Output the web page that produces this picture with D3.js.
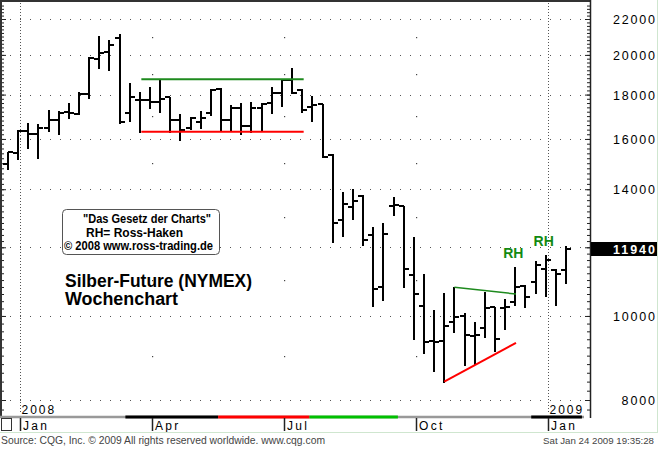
<!DOCTYPE html>
<html>
<head>
<meta charset="utf-8">
<script src="https://cdn.jsdelivr.net/npm/d3@7"></script>
<style>
  body { margin: 0; background: #fff; }
  svg { display: block; font-family: Arial, "Liberation Sans", sans-serif; }
</style>
</head>
<body>
<svg id="chart" width="660" height="449"></svg>
<script>
// weekly bars, one per Monday
const firstWeek = new Date(2007, 11, 31);
const lastWeek = new Date(2009, 0, 19);

const opens = [14960, 15400, 16340, 16200, 16490, 16830, 17170, 17100, 18020, 19770,
  20140, 20900, 17130, 17740, 17740, 17660, 17900, 16830, 16460, 16750,
  17130, 18280, 16830, 17360, 16560, 17360, 17590, 18090, 18720, 18220,
  17400, 17540, 15330, 12900, 13370, 13750, 12400, 10790, 13400, 13390,
  11150, 10270, 9360, 9360, 9850, 10000, 9480, 9680, 10240, 10210,
  10390, 10830, 10950, 11320, 11300, 11300];
const highs = [15470, 16390, 16680, 16640, 17280, 17230, 17590, 18140, 19870, 21030,
  20810, 21130, 18550, 18140, 18350, 18750, 17900, 17100, 16970, 17250,
  18260, 18300, 17510, 17590, 17660, 17590, 18350, 18750, 19300, 18260,
  17930, 17560, 15370, 13910, 14010, 13790, 12680, 12790, 13700, 13400,
  12340, 11180, 10160, 10620, 10790, 10090, 9850, 10670, 10250, 10450,
  11400, 10860, 11580, 11760, 11320, 12040];
const lows = [14770, 15170, 15630, 15200, 16340, 16200, 16900, 17080, 17820, 19300,
  19220, 16710, 16800, 16300, 17360, 17200, 16310, 15960, 16420, 16490,
  17050, 16390, 16390, 16210, 16310, 16390, 17160, 17460, 18060, 17200,
  16780, 15240, 12180, 12380, 12930, 12070, 10270, 10430, 13080, 10810,
  9400, 9070, 8650, 8400, 9590, 8780, 8800, 9460, 9120, 9650,
  10300, 10230, 10620, 10540, 10300, 10910];
const closes = [15450, 16340, 16200, 16490, 16830, 17130, 17130, 18020, 19820, 20090,
  20530, 16750, 17900, 17760, 17660, 17780, 16830, 16390, 16900, 16900,
  18220, 16830, 17360, 16560, 17360, 17570, 18060, 18710, 18090, 17280,
  17510, 15260, 12810, 13460, 13580, 12240, 10730, 12420, 13430, 11330,
  10600, 9340, 9340, 9740, 9980, 9510, 9510, 10220, 9400, 10250,
  10810, 10510, 11450, 11600, 11180, 11940];

const priceTicks = [8000, 10000, 12000, 14000, 16000, 18000, 20000, 22000];
const oddLevels = [9000, 11000, 13000, 15000, 17000, 19000, 21000];
const lastPrice = 11940;

// trading range and triangle lines
const rangeTop = [{ date: new Date(2008, 3, 1), value: 18750 }, { date: new Date(2008, 6, 22), value: 18750 }];
const rangeBottom = [{ date: new Date(2008, 3, 1), value: 16310 }, { date: new Date(2008, 6, 22), value: 16310 }];
const triTop = [{ date: new Date(2008, 10, 3), value: 10790 }, { date: new Date(2008, 11, 15, 12), value: 10600 }];
const triBottom = [{ date: new Date(2008, 9, 27), value: 8400 }, { date: new Date(2008, 11, 15, 12), value: 9310 }];
const rhWeeks = [50, 53];

// contract strip under the plot
const stripSegments = [
  { start: new Date(2008, 2, 21), end: new Date(2008, 4, 24), color: "#000" },
  { start: new Date(2008, 4, 24), end: new Date(2008, 6, 26), color: "#ff0000" },
  { start: new Date(2008, 6, 26), end: new Date(2008, 8, 25), color: "#00c000" },
  { start: new Date(2008, 11, 26), end: new Date(2009, 0, 30), color: "#000" }
];

const svg = d3.select("#chart");
const axisX = 590, plotBottom = 417;

const weeks = d3.timeMonday.range(firstWeek, d3.timeDay.offset(lastWeek, 1));
const bars = weeks.map((d, i) => ({ date: d, o: opens[i], h: highs[i], l: lows[i], c: closes[i] }));

const x = d3.scaleTime().domain([firstWeek, lastWeek]).range([8, 566]);
const y = d3.scaleLog().domain([8000, 22000]).range([400, 19]);
const px = d => Math.round(x(d));
const py = v => Math.round(y(v));

// first bar of Jan / Apr / Jul / Oct
const monthTicks = weeks.filter((d, i) => i > 0 && d.getMonth() !== weeks[i - 1].getMonth() && d.getMonth() % 3 === 0);
const tickX = d => px(d) + 2;

// horizontal dotted grid
svg.append("g").selectAll("line").data(priceTicks).join("line")
  .attr("x1", 0).attr("x2", axisX)
  .attr("y1", d => py(d) + 0.5).attr("y2", d => py(d) + 0.5)
  .attr("stroke", "#555").attr("stroke-dasharray", "1,9");

// year lines dotted, quarter lines only dots at odd levels
const janTicks = monthTicks.filter(d => d.getMonth() === 0);
svg.append("g").selectAll("line").data(janTicks).join("line")
  .attr("x1", d => tickX(d) + 0.5).attr("x2", d => tickX(d) + 0.5)
  .attr("y1", 3).attr("y2", 412)
  .attr("stroke", "#555").attr("stroke-dasharray", "1,2");

const quarterTicks = monthTicks.filter(d => d.getMonth() !== 0);
const dotG = svg.append("g");
quarterTicks.forEach(t => {
  dotG.selectAll(null).data(oddLevels).join("rect")
    .attr("x", tickX(t)).attr("y", d => py(d))
    .attr("width", 1.2).attr("height", 1.2).attr("fill", "#444");
});

// frame
svg.append("line").attr("x1", 0).attr("x2", axisX).attr("y1", 1).attr("y2", 1)
  .attr("stroke", "#333").attr("stroke-width", 2);
svg.append("line").attr("x1", 1).attr("x2", 1).attr("y1", 0).attr("y2", plotBottom)
  .attr("stroke", "#333").attr("stroke-width", 2);
svg.append("line").attr("x1", axisX + 0.5).attr("x2", axisX + 0.5).attr("y1", 0).attr("y2", plotBottom + 1)
  .attr("stroke", "#222").attr("stroke-width", 1.5);

// axes ticks
const minorTicks = d3.range(7800, 23000, 200);
function tickAxis(axisFn, xpos, vals, size) {
  const g = svg.append("g").attr("transform", `translate(${xpos},0)`)
    .call(axisFn(y).tickValues(vals).tickSize(size).tickFormat(""));
  g.select(".domain").remove();
  g.selectAll("line").attr("stroke", "#222");
  return g;
}
tickAxis(d3.axisLeft, axisX, minorTicks.filter(v => y(v) > 2 && y(v) < 414), 3);
tickAxis(d3.axisLeft, axisX, priceTicks, 5);
tickAxis(d3.axisRight, 2, minorTicks.filter(v => y(v) > 2 && y(v) < 414), 2);
tickAxis(d3.axisRight, 2, priceTicks, 4);

// price labels (the last-price box takes the place of the one it would hit)
const labelTicks = priceTicks.filter(v => Math.abs(y(v) - y(lastPrice)) > 10);
svg.append("g").selectAll("text").data(labelTicks).join("text")
  .attr("x", 655).attr("y", d => py(d) + 4.5)
  .attr("text-anchor", "end").attr("font-size", 12.5).attr("fill", "#000")
  .attr("textLength", d => String(d).length * 8.6 - 1).attr("lengthAdjust", "spacing")
  .text(d => d);

// last price box
svg.append("rect").attr("x", 591).attr("y", py(lastPrice) - 7).attr("width", 67).attr("height", 14).attr("fill", "#000");
svg.append("text").attr("x", 655).attr("y", py(lastPrice) + 4.5)
  .attr("text-anchor", "end").attr("font-size", 12.5).attr("font-weight", "bold").attr("fill", "#fff")
  .attr("textLength", 42).attr("lengthAdjust", "spacing").text(lastPrice);

// OHLC bars
const bar = svg.append("g").selectAll("g").data(bars).join("g")
  .attr("transform", d => `translate(${px(d.date)},0)`);
bar.append("line").attr("x1", 0).attr("x2", 0)
  .attr("y1", d => py(d.h)).attr("y2", d => py(d.l) + 1)
  .attr("stroke", "#000").attr("stroke-width", 2);
bar.append("line").attr("x1", -5).attr("x2", 0)
  .attr("y1", d => py(d.o)).attr("y2", d => py(d.o))
  .attr("stroke", "#000").attr("stroke-width", 2);
bar.append("line").attr("x1", 0).attr("x2", 5)
  .attr("y1", d => py(d.c)).attr("y2", d => py(d.c))
  .attr("stroke", "#000").attr("stroke-width", 2);

// trend lines
const line = d3.line().x(d => x(d.date)).y(d => y(d.value));
svg.append("path").datum(rangeTop).attr("d", line).attr("stroke", "#1e8a1e").attr("stroke-width", 2).attr("fill", "none");
svg.append("path").datum(rangeBottom).attr("d", line).attr("stroke", "#ff0000").attr("stroke-width", 2).attr("fill", "none");
svg.append("path").datum(triTop).attr("d", line).attr("stroke", "#1e8a1e").attr("stroke-width", 1.5).attr("fill", "none");
svg.append("path").datum(triBottom).attr("d", line).attr("stroke", "#ff0000").attr("stroke-width", 2).attr("fill", "none");

// RH labels
svg.append("g").selectAll("text").data(rhWeeks).join("text")
  .attr("x", i => x(weeks[i]) - 2).attr("y", i => y(highs[i]) - 9)
  .attr("text-anchor", "middle").attr("font-size", 14).attr("font-weight", "bold").attr("fill", "#128a12")
  .text("RH");

// info box
svg.append("rect").attr("x", 62.5).attr("y", 209.5).attr("width", 157).attr("height", 45).attr("rx", 4)
  .attr("fill", "#fff").attr("stroke", "#555");
const boxLines = [
  { text: "\"Das Gesetz der Charts\"", x: 83, y: 223, w: 128 },
  { text: "RH= Ross-Haken", x: 86, y: 236.5, w: 97 },
  { text: "\u00a9 2008 www.ross-trading.de", x: 64, y: 250, w: 149 }
];
svg.append("g").selectAll("text").data(boxLines).join("text")
  .attr("x", d => d.x).attr("y", d => d.y).attr("textLength", d => d.w).attr("lengthAdjust", "spacingAndGlyphs")
  .attr("font-size", 12).attr("font-weight", "bold").attr("fill", "#000").text(d => d.text);

svg.append("text").attr("x", 65).attr("y", 286.5).attr("font-size", 18).attr("font-weight", "bold")
  .attr("textLength", 187).attr("lengthAdjust", "spacingAndGlyphs").text("Silber-Future (NYMEX)");
svg.append("text").attr("x", 65).attr("y", 305).attr("font-size", 18).attr("font-weight", "bold")
  .attr("textLength", 113).attr("lengthAdjust", "spacingAndGlyphs").text("Wochenchart");

// year labels
svg.append("g").selectAll("text").data(janTicks).join("text")
  .attr("x", d => tickX(d) + 1.5).attr("y", 413.5)
  .attr("font-size", 12).attr("letter-spacing", 2).attr("fill", "#000")
  .text(d => d.getFullYear());

// contract strip
svg.append("line").attr("x1", 0).attr("x2", axisX - 6).attr("y1", plotBottom).attr("y2", plotBottom)
  .attr("stroke", "#999").attr("stroke-width", 2.5);
svg.append("g").selectAll("line").data(stripSegments).join("line")
  .attr("x1", d => x(d.start)).attr("x2", d => Math.min(x(d.end), axisX - 8))
  .attr("y1", plotBottom).attr("y2", plotBottom)
  .attr("stroke", d => d.color).attr("stroke-width", 3);

// month row
svg.append("rect").attr("x", 1.5).attr("y", 418.5).attr("width", 10).attr("height", 12)
  .attr("fill", "none").attr("stroke", "#333");
svg.append("g").selectAll("line").data(monthTicks).join("line")
  .attr("x1", d => tickX(d) + 0.5).attr("x2", d => tickX(d) + 0.5)
  .attr("y1", 418).attr("y2", 431).attr("stroke", "#222").attr("stroke-width", 1.5);
svg.append("g").selectAll("text").data(monthTicks).join("text")
  .attr("x", d => tickX(d) + 3).attr("y", 429.5)
  .attr("font-size", 12).attr("letter-spacing", 2.3).attr("fill", "#000")
  .text(d3.timeFormat("%b"));

// outer light frame
svg.append("line").attr("x1", 657.5).attr("x2", 657.5).attr("y1", 0).attr("y2", 432)
  .attr("stroke", "#cfe6cf");
svg.append("line").attr("x1", 0).attr("x2", 658).attr("y1", 432.5).attr("y2", 432.5)
  .attr("stroke", "#cfe6cf");

// footer
svg.append("text").attr("x", 1).attr("y", 443.5).attr("font-size", 10.5).attr("fill", "#444")
  .attr("textLength", 324).attr("lengthAdjust", "spacingAndGlyphs")
  .text("Source: CQG, Inc. \u00a9 2009 All rights reserved worldwide. www.cqg.com");
svg.append("text").attr("x", 654).attr("y", 443.5).attr("font-size", 9.7).attr("fill", "#444")
  .attr("text-anchor", "end")
  .text("Sat Jan 24 2009 19:35:28");
</script>
</body>
</html>
